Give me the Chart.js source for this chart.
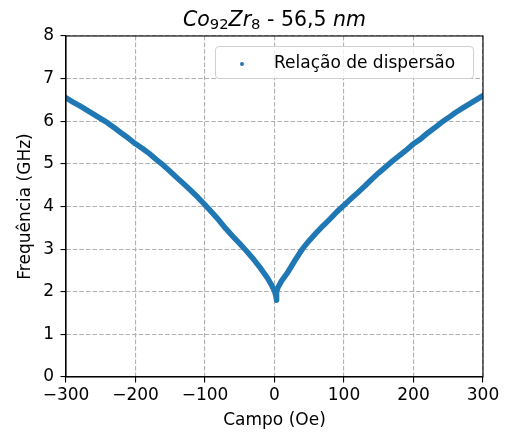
<!DOCTYPE html>
<html>
<head>
<meta charset="utf-8">
<script src="https://cdn.jsdelivr.net/npm/chart.js@4/dist/chart.umd.min.js"></script>
<style>
	body { margin: 0; background: #fff; }
	#wrap { position: relative; width: 509px; height: 432px; font-family: "DejaVu Sans", sans-serif; }
	#chart { position: absolute; left: 0; top: 0; }
	#title {
		position: absolute; left: 66px; width: 417px; top: 8px;
		text-align: center; font-size: 20.5px; line-height: 22px; color: #000; white-space: nowrap;
	}
	#title sub { font-size: 0.72em; line-height: 0; vertical-align: -0.2em; }
	#legend {
		position: absolute; left: 215px; top: 46px; width: 257px; height: 31px;
		border: 1px solid #d0d0d0; border-radius: 4px; background: rgba(255, 255, 255, 0.8);
		font-size: 17px; color: #000;
	}
	#legend .dot { position: absolute; left: 24px; top: 15px; width: 4px; height: 4px; border-radius: 50%; }
	#legend .txt { position: absolute; left: 58px; top: 5px; line-height: 20px; white-space: nowrap; }
</style>
</head>
<body>
<div id="wrap">
	<canvas id="chart" width="509" height="432"></canvas>
	<div id="title"><i>Co</i><sub>92</sub><i>Zr</i><sub>8</sub> - 56,5 <i>nm</i></div>
	<div id="legend"><span class="dot"></span><span class="txt"></span></div>
</div>
<script>
	// campo (Oe) e frequência (GHz)
	var campo = [-300, -290, -280, -270, -260, -250, -240, -230, -220, -210,
		-200, -190, -180, -170, -160, -150, -140, -130, -120, -110,
		-100, -90, -80, -70, -60, -50, -40, -30, -20, -10,
		-5, 0, 2, 3,
		3, 5, 10, 20, 30, 40, 50, 60, 70, 80, 90,
		100, 110, 120, 130, 140, 150, 160, 170, 180, 190,
		200, 210, 220, 230, 240, 250, 260, 270, 280, 290, 300];
	var frequencia = [6.55, 6.45, 6.36, 6.26, 6.16, 6.06, 5.96, 5.84, 5.72, 5.60,
		5.47, 5.36, 5.24, 5.10, 4.97, 4.82, 4.67, 4.52, 4.37, 4.21,
		4.04, 3.86, 3.68, 3.48, 3.30, 3.13, 2.95, 2.76, 2.55, 2.32,
		2.18, 2.02, 1.90, 1.80,
		2.00, 2.10, 2.25, 2.48, 2.75, 3.00, 3.20, 3.38, 3.55, 3.71, 3.88,
		4.03, 4.18, 4.33, 4.48, 4.64, 4.79, 4.93, 5.07, 5.20, 5.33,
		5.47, 5.58, 5.72, 5.84, 5.97, 6.08, 6.20, 6.30, 6.40, 6.50, 6.60];

	var xTicks = [-300, -200, -100, 0, 100, 200, 300];
	var yTicks = [0, 1, 2, 3, 4, 5, 6, 7, 8];

	var serieLabel = 'Relação de dispersão';
	var corSerie = '#1f77b4';

	var pontos = [];
	campo.forEach(function (h, i) {
		pontos.push({ x: h, y: frequencia[i] });
	});

	var fonte = { family: 'DejaVu Sans', size: 17 };

	// moldura completa (como os spines do matplotlib)
	var moldura = {
		id: 'moldura',
		afterDraw: function (chart) {
			var a = chart.chartArea;
			var ctx = chart.ctx;
			ctx.save();
			ctx.strokeStyle = '#000';
			ctx.lineWidth = 1.1;
			ctx.strokeRect(a.left, a.top, a.right - a.left, a.bottom - a.top);
			ctx.restore();
		}
	};

	function eixoGrid() {
		return {
			color: '#b0b0b0',
			lineWidth: 1.1,
			tickColor: '#000',
			tickLength: 5.5,
			tickBorderDash: [],
			tickWidth: 1.1
		};
	}

	// no v4 o tracejado da grade vem de border.dash
	function eixoBorda() {
		return { display: true, color: '#000', width: 1.1, dash: [4.6, 2] };
	}

	var ctx = document.getElementById('chart').getContext('2d');
	var chart = new Chart(ctx, {
		type: 'scatter',
		data: {
			datasets: [{
				label: serieLabel,
				data: pontos,
				showLine: true,
				borderColor: corSerie,
				backgroundColor: corSerie,
				borderWidth: 5.5,
				borderCapStyle: 'round',
				borderJoinStyle: 'round',
				pointRadius: 0,
				tension: 0,
				clip: 0
			}]
		},
		options: {
			responsive: false,
			animation: false,
			devicePixelRatio: 1,
			layout: { padding: { top: 36, right: 26, left: 0, bottom: 0 } },
			plugins: {
				legend: { display: false },
				tooltip: { enabled: false }
			},
			scales: {
				x: {
					type: 'linear',
					min: -300,
					max: 300,
					afterBuildTicks: function (scale) {
						scale.ticks = xTicks.map(function (v) { return { value: v }; });
					},
					afterFit: function (scale) { scale.height = 55; },
					grid: eixoGrid(),
					border: eixoBorda(),
					ticks: {
						color: '#000',
						font: fonte,
						padding: 3,
						maxRotation: 0,
						callback: function (v) { return String(v).replace('-', '\u2212'); }
					},
					title: {
						display: true,
						text: 'Campo (Oe)',
						color: '#000',
						font: fonte,
						padding: { top: 0, bottom: 1 }
					}
				},
				y: {
					type: 'linear',
					min: 0,
					max: 8,
					afterBuildTicks: function (scale) {
						scale.ticks = yTicks.map(function (v) { return { value: v }; });
					},
					afterFit: function (scale) { scale.width = 66; },
					grid: eixoGrid(),
					border: eixoBorda(),
					ticks: {
						color: '#000',
						font: fonte,
						padding: 6.5
					},
					title: {
						display: true,
						text: 'Frequência (GHz)',
						color: '#000',
						font: fonte,
						padding: { top: 15, bottom: 0 }
					}
				}
			}
		},
		plugins: [moldura]
	});

	// legenda dentro da área do gráfico
	document.querySelector('#legend .txt').innerText = chart.data.datasets[0].label;
	document.querySelector('#legend .dot').style.background = chart.data.datasets[0].borderColor;
</script>
</body>
</html>
